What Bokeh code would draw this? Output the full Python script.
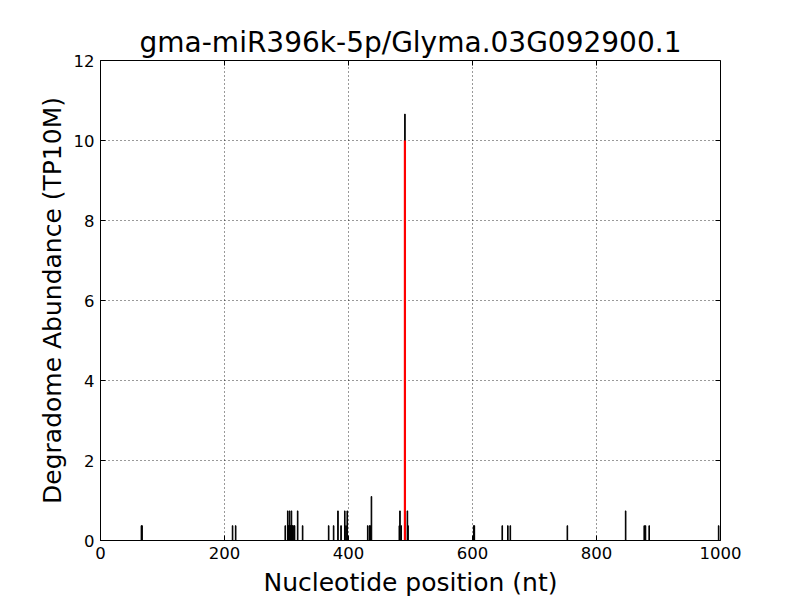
import math
from bokeh.plotting import figure
from bokeh.models import FixedTicker, Range1d
from bokeh.embed import file_html
from bokeh.resources import INLINE

title_text = "gma-miR396k-5p/Glyma.03G092900.1"
x_label = "Nucleotide position (nt)"
y_label = "Degradome Abundance (TP10M)"

positions = [66, 67, 213, 218, 298, 302, 303, 304, 305, 306, 307, 308, 309, 310, 312, 313,
             318, 326, 368, 376, 383, 388, 394, 396, 398, 431, 434, 435, 437,
             482, 483, 485, 491, 495, 496, 602, 603, 648, 657, 661, 753, 847, 877, 879, 885, 997]
abundance = [0.37, 0.37, 0.37, 0.37, 0.37, 0.74, 0.37, 0.37, 0.74, 0.37, 0.37, 0.74, 0.37, 0.37, 0.37, 0.37,
             0.74, 0.37, 0.37, 0.37, 0.74, 0.37, 0.74, 0.37, 0.74, 0.37, 0.37, 0.37, 1.10,
             0.37, 0.74, 0.37, 10.66, 0.74, 0.37, 0.37, 0.37, 0.37, 0.37, 0.37, 0.37, 0.74, 0.37, 0.37, 0.37, 0.37]

target_pos = [491]
target_val = [10.0]

x_ticks = [0, 200, 400, 600, 800, 1000]
y_ticks = [0, 2, 4, 6, 8, 10, 12]

x_max = x_ticks[-1]
y_max = y_ticks[-1]

p = figure(width=800, height=600, frame_width=620, frame_height=480,
           min_border_left=100, min_border_right=80, min_border_top=60, min_border_bottom=60,
           x_range=Range1d(0, x_max), y_range=Range1d(0, y_max),
           output_backend="svg", toolbar_location=None)

p.title.text = title_text
p.title.align = "center"
p.title.text_font = "DejaVu Sans"
p.title.text_font_size = "28px"
p.title.text_font_style = "normal"
p.title.text_color = "black"
p.title.offset = 0
p.title.standoff = 3

p.vbar(x=positions, top=abundance, bottom=0, width=1.0, fill_color="black", line_color="black", line_width=1.0)
p.segment(x0=target_pos, y0=[0], x1=target_pos, y1=target_val, line_color="red", line_width=2.2)

for ax, lab in ((p.xaxis[0], x_label), (p.yaxis[0], y_label)):
    ax.axis_label = lab
    ax.axis_label_text_font = "DejaVu Sans"
    ax.axis_label_text_font_size = "25px"
    ax.axis_label_text_font_style = "normal"
    ax.axis_label_text_color = "black"
    ax.major_label_text_font = "DejaVu Sans"
    ax.major_label_text_font_size = "16.5px"
    ax.major_label_text_color = "black"
    ax.major_tick_in = 5
    ax.major_tick_out = 0
    ax.major_tick_line_color = "black"
    ax.minor_tick_line_color = None
    ax.axis_line_color = "black"
    ax.major_label_standoff = 6

p.xaxis[0].ticker = FixedTicker(ticks=x_ticks)
p.yaxis[0].ticker = FixedTicker(ticks=y_ticks)
p.xaxis[0].axis_label_standoff = 6
p.yaxis[0].axis_label_standoff = 4

# inward ticks on the top and right edges (clipped to the frame, so only the inner half shows)
p.scatter(x=x_ticks, y=[y_max] * len(x_ticks), marker="dash", angle=math.pi / 2, size=10,
          line_color="black", line_width=1)
p.scatter(x=[x_max] * len(y_ticks), y=y_ticks, marker="dash", size=10,
          line_color="black", line_width=1)

p.xgrid.ticker = FixedTicker(ticks=x_ticks)
p.ygrid.ticker = FixedTicker(ticks=y_ticks)
for g in (p.xgrid, p.ygrid):
    g.grid_line_color = "black"
    g.grid_line_dash = "1 3"
    g.grid_line_width = 1
    g.grid_line_alpha = 0.8

p.outline_line_color = "black"
p.outline_line_width = 1
p.background_fill_color = "white"
p.border_fill_color = "white"

open("out.html", "w").write(file_html(p, INLINE))
